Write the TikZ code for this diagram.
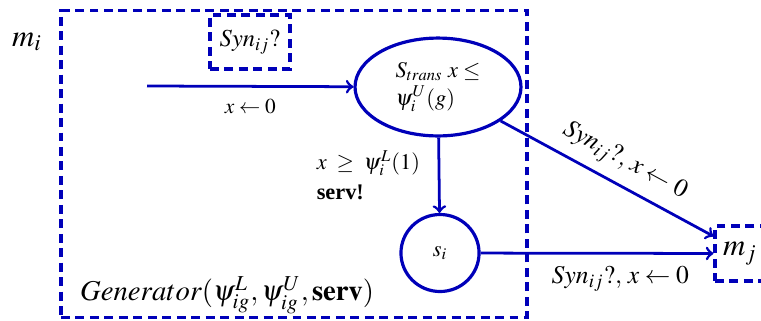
\documentclass[tikz,border=0pt]{standalone}
\usepackage{mathptmx}
\usepackage{fontspec}
\setmainfont{Liberation Serif}
\usepackage{tikz}
\usetikzlibrary{positioning,shapes,arrows,shapes.geometric}
\definecolor{autblue}{RGB}{0,0,185}

\begin{document}
\begin{tikzpicture}[
    x=0.47pt, y=-0.47pt,
    box/.style={draw=autblue, rectangle, line width=1.5pt, dash pattern=on 4.2pt off 2.6pt, inner sep=0pt},
    loc/.style={draw=autblue, ellipse, line width=1.5pt, inner sep=0pt, align=left},
    line/.style={draw=autblue, ->, >=to, line width=1.3pt}
]
    \clip (0,0) rectangle (761,320);
    % Nodes
    \node[box, minimum width=219pt, minimum height=144pt] (gen) at (294,164) {};
    \node[box, minimum width=37.6pt, minimum height=25.4pt, font=\fontsize{11.5}{13}\selectfont] (syn) at (250,42) {$Syn_{ij}?$};
    \node[box, minimum width=23.5pt, minimum height=25.9pt, font=\fontsize{14.5}{16}\selectfont] (mj) at (740,253.5) {$m_j$};
    \node[loc, minimum width=78pt, minimum height=46pt, font=\fontsize{10.5}{13}\selectfont] (strans) at (438,87) {$S_{trans}\ x\leq$\\$\psi_i^U(g)$};
    \node[loc, minimum width=36.7pt, minimum height=36.2pt, font=\fontsize{10.5}{12}\selectfont] (si) at (440,253) {$s_i$};
    \node[font=\fontsize{14.5}{16}\selectfont] (mi) at (27,42) {$m_i$};
    \node[font=\fontsize{13.5}{16}\selectfont] (genlabel) at (227,295) {$Generator(\psi^L_{ig},\psi^U_{ig},\mathbf{serv})$};
    \coordinate (init) at (147,86);

    % Connections
    \draw[line] (init) -- node[below=2pt] {$x\leftarrow 0$} (strans);
    \draw[line] (strans) -- node[left=5pt, align=left, font=\fontsize{10.5}{14}\selectfont] {$x\;\geq\;\psi_i^L(1)$\\\textbf{serv!}} (si);
    \draw[line] (si) -- node[below=2pt, pos=0.6, font=\large] {$Syn_{ij}?,\,x\leftarrow 0$} (mj);
    \draw[line] (strans) -- node[above=1pt, sloped, pos=0.53, font=\large] {$Syn_{ij}?,\,x\leftarrow 0$} (mj.147);
\end{tikzpicture}
\end{document}
